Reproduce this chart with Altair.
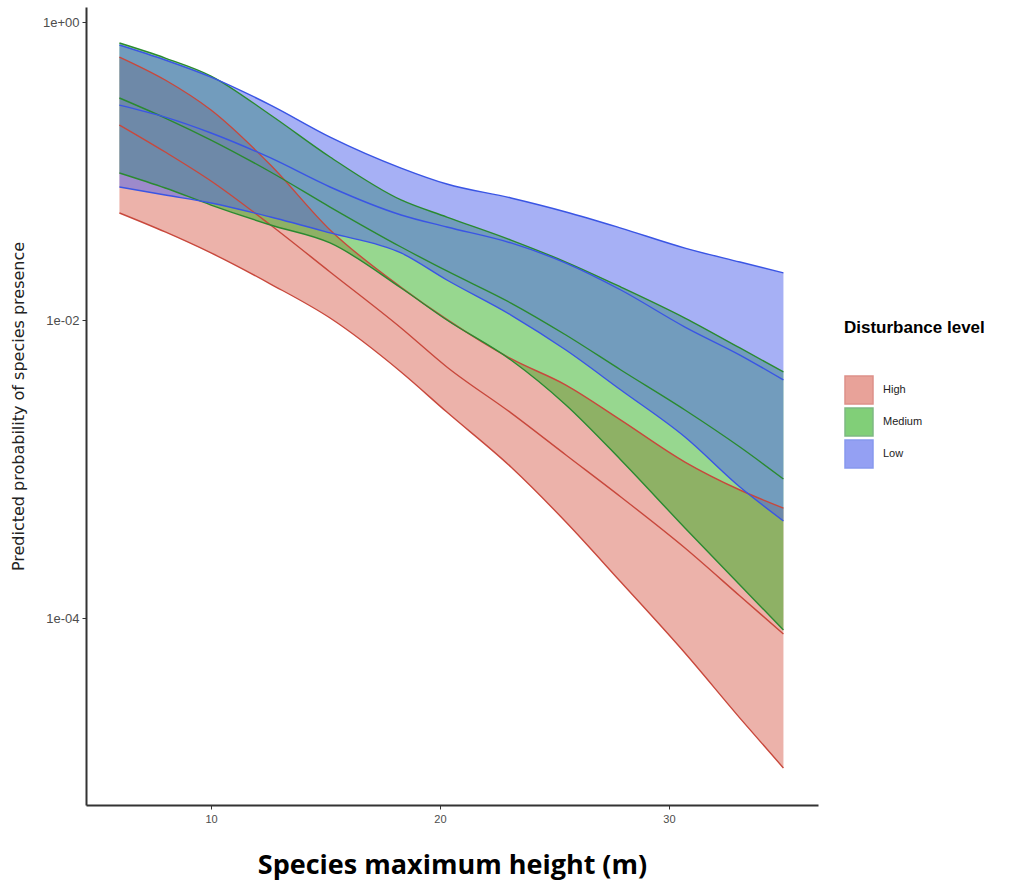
import altair as alt
import pandas as pd

# Species maximum height (m) at which predictions were evaluated
height_m = [6.0, 8.0, 10.0, 12.6, 15.2, 18.3, 20.3, 23.1, 25.5, 27.9, 30.7, 33.1, 35.0]
levels = ["High", "Medium", "Low"]

# Predicted probability of presence: lower CI, fitted value, upper CI
high_lower = [0.0523, 0.0390, 0.0282, 0.01744, 0.01031, 0.00448, 0.00241, 0.001031,
              0.000441, 0.0001744, 0.0000582, 0.0000213, 0.00000985]
high_fit = [0.2036, 0.1341, 0.0857, 0.0434, 0.0210, 0.00884, 0.00484, 0.00238,
            0.001242, 0.000649, 0.000295, 0.0001405, 0.0000781]
high_upper = [0.582, 0.408, 0.2566, 0.1097, 0.0402, 0.0166, 0.0101, 0.0055,
              0.00366, 0.00213, 0.001114, 0.000723, 0.000547]

medium_lower = [0.0970, 0.0769, 0.0591, 0.0434, 0.0329, 0.0164, 0.0100, 0.00539,
                0.00269, 0.00115, 0.000402, 0.0001665, 0.0000831]
medium_fit = [0.309, 0.2268, 0.1614, 0.0985, 0.0573, 0.0309, 0.02133, 0.0130,
              0.00793, 0.00462, 0.00249, 0.001405, 0.000857]
medium_upper = [0.723, 0.573, 0.434, 0.2376, 0.1241, 0.0639, 0.0491, 0.0344,
                0.0245, 0.01665, 0.01031, 0.00649, 0.00448]

low_lower = [0.0781, 0.0690, 0.0610, 0.0491, 0.0384, 0.0282, 0.01856, 0.01080,
             0.00629, 0.00339, 0.00164, 0.000757, 0.000448]
low_fit = [0.277, 0.230, 0.180, 0.1223, 0.0781, 0.0507, 0.0421, 0.0329,
           0.0241, 0.0159, 0.00897, 0.00582, 0.00396]
low_upper = [0.701, 0.556, 0.427, 0.277, 0.169, 0.1047, 0.0818, 0.0659,
             0.0531, 0.0414, 0.0304, 0.0245, 0.0207]

fill_colors = ["#D96656", "#2FB020", "#4E62EC"]
line_colors = ["#C8483C", "#2A8A30", "#3A55E4"]

series = {
    "High": (high_lower, high_fit, high_upper),
    "Medium": (medium_lower, medium_fit, medium_upper),
    "Low": (low_lower, low_fit, low_upper),
}

ribbon_rows = []
line_rows = []
for order, lvl in enumerate(levels):
    lo, fit, up = series[lvl]
    for i, x in enumerate(height_m):
        ribbon_rows.append({"height": x, "level": lvl, "order": order,
                            "lower": lo[i], "upper": up[i]})
        for kind, vals in (("lower", lo), ("fit", fit), ("upper", up)):
            line_rows.append({"height": x, "level": lvl, "order": order,
                              "kind": kind, "p": vals[i]})

ribbons = pd.DataFrame(ribbon_rows)
lines = pd.DataFrame(line_rows)

x_scale = alt.Scale(domain=[4.54, 36.51], nice=False, zero=False)
y_scale = alt.Scale(type="log", domain=[5.56e-6, 1.261], nice=False)
fill_scale = alt.Scale(domain=levels, range=fill_colors)
stroke_scale = alt.Scale(domain=levels, range=line_colors)

x_axis = alt.Axis(
    values=[10, 20, 30], title="Species maximum height (m)", grid=False,
    labelFont="Liberation Sans", labelFontSize=11, labelColor="#4d4d4d",
    tickSize=4, tickColor="#333333", domainColor="#333333", domainWidth=2,
    titleFont="Open Sans", titleFontSize=27, titleFontWeight="bold",
    titleColor="#000000", titlePadding=28, labelPadding=4,
)
y_axis = alt.Axis(
    values=[1, 0.01, 0.0001], title="Predicted probability of species presence",
    labelExpr="datum.value >= 1 ? '1e+00' : (datum.value >= 0.01 ? '1e-02' : '1e-04')",
    grid=False, labelFont="Liberation Sans", labelFontSize=13, labelColor="#4d4d4d",
    tickSize=4, tickColor="#333333", domainColor="#333333", domainWidth=2,
    titleFont="DejaVu Sans", titleFontSize=16, titleFontWeight="normal",
    titleColor="#222222", titlePadding=16, labelPadding=3,
)

legend = alt.Legend(
    title="Disturbance level", orient="none", legendX=758, legendY=313,
    titleFont="Liberation Sans", titleFontSize=17, titleFontWeight="bold",
    titleColor="#000000", titlePadding=38,
    labelFont="Liberation Sans", labelFontSize=11, labelColor="#222222",
    symbolType="square", symbolSize=784, symbolStrokeWidth=1.5,
    symbolOpacity=0.6, rowPadding=-5, labelOffset=9,
)

band = alt.Chart(ribbons).mark_area(opacity=0.5, strokeWidth=0, interpolate="monotone").encode(
    x=alt.X("height:Q", scale=x_scale, axis=x_axis),
    y=alt.Y("lower:Q", scale=y_scale, axis=y_axis),
    y2="upper:Q",
    fill=alt.Fill("level:N", scale=fill_scale, legend=legend, sort=levels),
    stroke=alt.Stroke("level:N", scale=stroke_scale, legend=legend, sort=levels),
    order="order:Q",
)

edges = alt.Chart(lines).mark_line(strokeWidth=1.4, interpolate="monotone").encode(
    x=alt.X("height:Q", scale=x_scale),
    y=alt.Y("p:Q", scale=y_scale),
    stroke=alt.Stroke("level:N", scale=stroke_scale, legend=legend, sort=levels),
    detail="kind:N",
)

chart = (
    alt.layer(band, edges)
    .properties(
        width=732, height=798,
        autosize=alt.AutoSizeParams(type="none"),
        padding={"left": 86, "top": 7, "right": 195, "bottom": 87},
        background="white",
    )
    .configure_view(stroke=None)
)

chart.save("out.html", embed_options={"renderer": "svg", "actions": False})
